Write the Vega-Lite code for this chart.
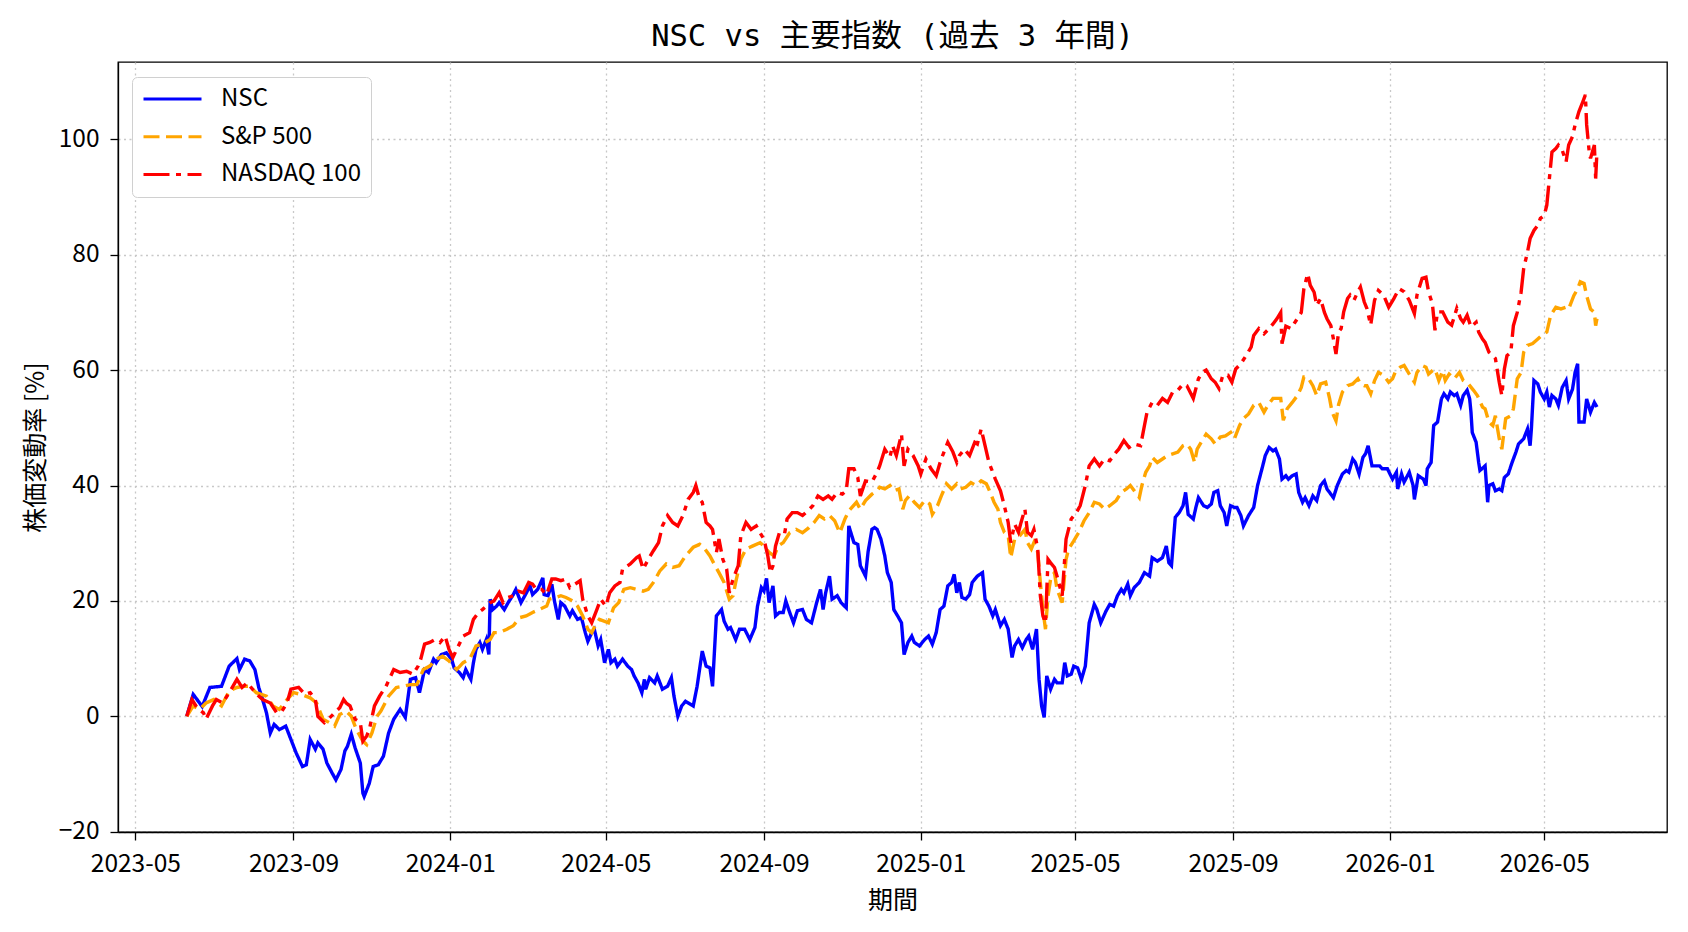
{
"$schema": "https://vega.github.io/schema/vega-lite/v6.json",
"width": 1549, "height": 770,
"autosize": {"type": "none"},
"padding": {"left": 118, "top": 62, "right": 21, "bottom": 100},
"background": "white",
"title": {"text": "NSC vs 主要指数 (過去 3 年間)", "font": "DejaVu Sans Mono, Noto Sans CJK JP", "fontSize": 30.5, "fontWeight": "normal", "color": "black", "offset": 10, "anchor": "middle"},
"config": {
  "view": {"stroke": "black", "strokeWidth": 1.3},
  "axis": {"labelFont": "Noto Sans CJK JP", "titleFont": "Noto Sans CJK JP", "labelFontSize": 24.5, "titleFontSize": 25, "titleFontWeight": "normal", "labelColor": "black", "titleColor": "black", "tickColor": "black", "tickSize": 8, "tickWidth": 1.3, "domainColor": "black", "domainWidth": 1.3, "grid": true, "gridColor": "#c8c8c8", "gridDash": [2, 3.5], "gridWidth": 1.3, "labelOverlap": false, "labelFlush": false},
  "legend": {"labelFont": "Noto Sans CJK JP", "labelFontSize": 24, "labelColor": "black", "strokeColor": "#d0d0d0", "fillColor": "white", "cornerRadius": 5, "padding": 10, "symbolType": "stroke", "symbolStrokeWidth": 3, "symbolSize": 3364, "labelOffset": 18, "rowPadding": 13.7, "clipHeight": 24, "titlePadding": 0}
},
"data": {"values": [
{"date":"2023-06-10","series":"NSC","value":0},
{"date":"2023-06-15","series":"NSC","value":3.8},
{"date":"2023-06-22","series":"NSC","value":1.7},
{"date":"2023-06-28","series":"NSC","value":5.0},
{"date":"2023-07-07","series":"NSC","value":5.2},
{"date":"2023-07-13","series":"NSC","value":8.7},
{"date":"2023-07-19","series":"NSC","value":10.0},
{"date":"2023-07-21","series":"NSC","value":8.1},
{"date":"2023-07-25","series":"NSC","value":9.9},
{"date":"2023-07-29","series":"NSC","value":9.6},
{"date":"2023-08-02","series":"NSC","value":8.1},
{"date":"2023-08-05","series":"NSC","value":5.0},
{"date":"2023-08-08","series":"NSC","value":2.9},
{"date":"2023-08-11","series":"NSC","value":0.6},
{"date":"2023-08-14","series":"NSC","value":-2.9},
{"date":"2023-08-17","series":"NSC","value":-1.4},
{"date":"2023-08-21","series":"NSC","value":-2.3},
{"date":"2023-08-26","series":"NSC","value":-1.7},
{"date":"2023-08-30","series":"NSC","value":-4.0},
{"date":"2023-09-03","series":"NSC","value":-6.3},
{"date":"2023-09-08","series":"NSC","value":-8.7},
{"date":"2023-09-11","series":"NSC","value":-8.4},
{"date":"2023-09-14","series":"NSC","value":-4.0},
{"date":"2023-09-18","series":"NSC","value":-5.7},
{"date":"2023-09-20","series":"NSC","value":-4.6},
{"date":"2023-09-24","series":"NSC","value":-5.7},
{"date":"2023-09-27","series":"NSC","value":-8.1},
{"date":"2023-10-01","series":"NSC","value":-9.8},
{"date":"2023-10-04","series":"NSC","value":-11.0},
{"date":"2023-10-08","series":"NSC","value":-9.2},
{"date":"2023-10-11","series":"NSC","value":-6.0},
{"date":"2023-10-13","series":"NSC","value":-5.2},
{"date":"2023-10-16","series":"NSC","value":-3.1},
{"date":"2023-10-19","series":"NSC","value":-5.5},
{"date":"2023-10-23","series":"NSC","value":-8.1},
{"date":"2023-10-25","series":"NSC","value":-13.3},
{"date":"2023-10-26","series":"NSC","value":-13.9},
{"date":"2023-10-30","series":"NSC","value":-11.6},
{"date":"2023-11-02","series":"NSC","value":-8.7},
{"date":"2023-11-06","series":"NSC","value":-8.4},
{"date":"2023-11-10","series":"NSC","value":-6.9},
{"date":"2023-11-14","series":"NSC","value":-2.9},
{"date":"2023-11-18","series":"NSC","value":-0.5},
{"date":"2023-11-23","series":"NSC","value":1.2},
{"date":"2023-11-27","series":"NSC","value":-0.2},
{"date":"2023-12-01","series":"NSC","value":6.4},
{"date":"2023-12-05","series":"NSC","value":6.7},
{"date":"2023-12-08","series":"NSC","value":4.1},
{"date":"2023-12-12","series":"NSC","value":8.1},
{"date":"2023-12-15","series":"NSC","value":7.6},
{"date":"2023-12-19","series":"NSC","value":9.9},
{"date":"2023-12-21","series":"NSC","value":9.3},
{"date":"2023-12-25","series":"NSC","value":10.7},
{"date":"2023-12-29","series":"NSC","value":11.0},
{"date":"2024-01-02","series":"NSC","value":9.9},
{"date":"2024-01-04","series":"NSC","value":8.4},
{"date":"2024-01-08","series":"NSC","value":7.6},
{"date":"2024-01-11","series":"NSC","value":6.7},
{"date":"2024-01-13","series":"NSC","value":8.1},
{"date":"2024-01-17","series":"NSC","value":6.4},
{"date":"2024-01-19","series":"NSC","value":9.3},
{"date":"2024-01-21","series":"NSC","value":11.6},
{"date":"2024-01-24","series":"NSC","value":12.8},
{"date":"2024-01-26","series":"NSC","value":11.6},
{"date":"2024-01-29","series":"NSC","value":13.3},
{"date":"2024-01-31","series":"NSC","value":10.7},
{"date":"2024-02-01","series":"NSC","value":20.3},
{"date":"2024-02-03","series":"NSC","value":18.5},
{"date":"2024-02-06","series":"NSC","value":19.1},
{"date":"2024-02-08","series":"NSC","value":19.7},
{"date":"2024-02-12","series":"NSC","value":18.5},
{"date":"2024-02-15","series":"NSC","value":19.7},
{"date":"2024-02-19","series":"NSC","value":21.1},
{"date":"2024-02-21","series":"NSC","value":22.0},
{"date":"2024-02-25","series":"NSC","value":19.7},
{"date":"2024-02-28","series":"NSC","value":20.9},
{"date":"2024-03-03","series":"NSC","value":22.6},
{"date":"2024-03-05","series":"NSC","value":21.1},
{"date":"2024-03-09","series":"NSC","value":22.0},
{"date":"2024-03-13","series":"NSC","value":24.0},
{"date":"2024-03-14","series":"NSC","value":21.1},
{"date":"2024-03-17","series":"NSC","value":20.9},
{"date":"2024-03-20","series":"NSC","value":22.9},
{"date":"2024-03-22","series":"NSC","value":20.0},
{"date":"2024-03-25","series":"NSC","value":16.8},
{"date":"2024-03-27","series":"NSC","value":19.7},
{"date":"2024-03-30","series":"NSC","value":19.1},
{"date":"2024-04-03","series":"NSC","value":17.4},
{"date":"2024-04-05","series":"NSC","value":18.3},
{"date":"2024-04-09","series":"NSC","value":16.8},
{"date":"2024-04-12","series":"NSC","value":17.1},
{"date":"2024-04-15","series":"NSC","value":14.5},
{"date":"2024-04-17","series":"NSC","value":13.0},
{"date":"2024-04-20","series":"NSC","value":14.5},
{"date":"2024-04-22","series":"NSC","value":15.1},
{"date":"2024-04-25","series":"NSC","value":12.2},
{"date":"2024-04-27","series":"NSC","value":13.3},
{"date":"2024-04-30","series":"NSC","value":9.3},
{"date":"2024-05-03","series":"NSC","value":11.6},
{"date":"2024-05-05","series":"NSC","value":9.3},
{"date":"2024-05-08","series":"NSC","value":9.9},
{"date":"2024-05-10","series":"NSC","value":8.7},
{"date":"2024-05-14","series":"NSC","value":9.9},
{"date":"2024-05-18","series":"NSC","value":8.7},
{"date":"2024-05-21","series":"NSC","value":8.1},
{"date":"2024-05-23","series":"NSC","value":7.0},
{"date":"2024-05-26","series":"NSC","value":5.8},
{"date":"2024-05-29","series":"NSC","value":4.1},
{"date":"2024-05-31","series":"NSC","value":6.4},
{"date":"2024-06-01","series":"NSC","value":4.7},
{"date":"2024-06-04","series":"NSC","value":6.7},
{"date":"2024-06-08","series":"NSC","value":5.8},
{"date":"2024-06-10","series":"NSC","value":7.0},
{"date":"2024-06-14","series":"NSC","value":4.7},
{"date":"2024-06-18","series":"NSC","value":5.2},
{"date":"2024-06-21","series":"NSC","value":6.7},
{"date":"2024-06-23","series":"NSC","value":3.5},
{"date":"2024-06-26","series":"NSC","value":0.0},
{"date":"2024-06-29","series":"NSC","value":1.8},
{"date":"2024-07-02","series":"NSC","value":2.6},
{"date":"2024-07-08","series":"NSC","value":1.8},
{"date":"2024-07-11","series":"NSC","value":5.2},
{"date":"2024-07-15","series":"NSC","value":11.3},
{"date":"2024-07-18","series":"NSC","value":8.7},
{"date":"2024-07-21","series":"NSC","value":8.4},
{"date":"2024-07-23","series":"NSC","value":5.2},
{"date":"2024-07-26","series":"NSC","value":17.4},
{"date":"2024-07-30","series":"NSC","value":18.5},
{"date":"2024-08-01","series":"NSC","value":16.5},
{"date":"2024-08-04","series":"NSC","value":15.1},
{"date":"2024-08-06","series":"NSC","value":15.4},
{"date":"2024-08-10","series":"NSC","value":13.3},
{"date":"2024-08-13","series":"NSC","value":15.1},
{"date":"2024-08-17","series":"NSC","value":15.1},
{"date":"2024-08-21","series":"NSC","value":13.3},
{"date":"2024-08-25","series":"NSC","value":15.4},
{"date":"2024-08-27","series":"NSC","value":19.1},
{"date":"2024-08-30","series":"NSC","value":22.3},
{"date":"2024-09-01","series":"NSC","value":21.7},
{"date":"2024-09-03","series":"NSC","value":23.9},
{"date":"2024-09-05","series":"NSC","value":19.7},
{"date":"2024-09-08","series":"NSC","value":22.6},
{"date":"2024-09-10","series":"NSC","value":17.4},
{"date":"2024-09-13","series":"NSC","value":18.0},
{"date":"2024-09-16","series":"NSC","value":18.0},
{"date":"2024-09-18","series":"NSC","value":20.0},
{"date":"2024-09-21","series":"NSC","value":18.0},
{"date":"2024-09-24","series":"NSC","value":16.2},
{"date":"2024-09-27","series":"NSC","value":18.3},
{"date":"2024-10-01","series":"NSC","value":18.5},
{"date":"2024-10-04","series":"NSC","value":16.8},
{"date":"2024-10-08","series":"NSC","value":16.2},
{"date":"2024-10-12","series":"NSC","value":19.7},
{"date":"2024-10-15","series":"NSC","value":22.0},
{"date":"2024-10-17","series":"NSC","value":18.5},
{"date":"2024-10-19","series":"NSC","value":21.4},
{"date":"2024-10-22","series":"NSC","value":24.3},
{"date":"2024-10-24","series":"NSC","value":20.3},
{"date":"2024-10-28","series":"NSC","value":20.9},
{"date":"2024-10-31","series":"NSC","value":19.7},
{"date":"2024-11-04","series":"NSC","value":18.8},
{"date":"2024-11-06","series":"NSC","value":33.0},
{"date":"2024-11-10","series":"NSC","value":30.1},
{"date":"2024-11-13","series":"NSC","value":29.8},
{"date":"2024-11-15","series":"NSC","value":26.1},
{"date":"2024-11-19","series":"NSC","value":24.3},
{"date":"2024-11-21","series":"NSC","value":28.5},
{"date":"2024-11-24","series":"NSC","value":32.4},
{"date":"2024-11-26","series":"NSC","value":32.7},
{"date":"2024-11-28","series":"NSC","value":32.4},
{"date":"2024-12-01","series":"NSC","value":30.7},
{"date":"2024-12-04","series":"NSC","value":27.8},
{"date":"2024-12-06","series":"NSC","value":24.9},
{"date":"2024-12-09","series":"NSC","value":23.2},
{"date":"2024-12-11","series":"NSC","value":18.5},
{"date":"2024-12-14","series":"NSC","value":17.4},
{"date":"2024-12-17","series":"NSC","value":16.2},
{"date":"2024-12-19","series":"NSC","value":10.7},
{"date":"2024-12-22","series":"NSC","value":12.8},
{"date":"2024-12-25","series":"NSC","value":13.9},
{"date":"2024-12-27","series":"NSC","value":12.8},
{"date":"2024-12-31","series":"NSC","value":12.2},
{"date":"2025-01-04","series":"NSC","value":13.3},
{"date":"2025-01-07","series":"NSC","value":13.9},
{"date":"2025-01-10","series":"NSC","value":12.5},
{"date":"2025-01-13","series":"NSC","value":14.5},
{"date":"2025-01-16","series":"NSC","value":18.5},
{"date":"2025-01-19","series":"NSC","value":19.1},
{"date":"2025-01-22","series":"NSC","value":22.6},
{"date":"2025-01-25","series":"NSC","value":23.2},
{"date":"2025-01-27","series":"NSC","value":24.6},
{"date":"2025-01-29","series":"NSC","value":21.4},
{"date":"2025-01-31","series":"NSC","value":23.2},
{"date":"2025-02-02","series":"NSC","value":20.6},
{"date":"2025-02-05","series":"NSC","value":20.3},
{"date":"2025-02-08","series":"NSC","value":21.1},
{"date":"2025-02-10","series":"NSC","value":23.2},
{"date":"2025-02-14","series":"NSC","value":24.3},
{"date":"2025-02-18","series":"NSC","value":24.9},
{"date":"2025-02-20","series":"NSC","value":20.3},
{"date":"2025-02-23","series":"NSC","value":19.1},
{"date":"2025-02-26","series":"NSC","value":17.4},
{"date":"2025-02-28","series":"NSC","value":18.5},
{"date":"2025-03-04","series":"NSC","value":15.7},
{"date":"2025-03-07","series":"NSC","value":16.8},
{"date":"2025-03-10","series":"NSC","value":15.1},
{"date":"2025-03-13","series":"NSC","value":10.2},
{"date":"2025-03-15","series":"NSC","value":12.2},
{"date":"2025-03-18","series":"NSC","value":13.3},
{"date":"2025-03-21","series":"NSC","value":11.9},
{"date":"2025-03-24","series":"NSC","value":13.3},
{"date":"2025-03-26","series":"NSC","value":13.9},
{"date":"2025-03-29","series":"NSC","value":11.6},
{"date":"2025-04-01","series":"NSC","value":15.1},
{"date":"2025-04-03","series":"NSC","value":6.4},
{"date":"2025-04-05","series":"NSC","value":1.8},
{"date":"2025-04-07","series":"NSC","value":-0.2},
{"date":"2025-04-09","series":"NSC","value":7.0},
{"date":"2025-04-12","series":"NSC","value":4.7},
{"date":"2025-04-15","series":"NSC","value":6.4},
{"date":"2025-04-17","series":"NSC","value":5.8},
{"date":"2025-04-21","series":"NSC","value":5.8},
{"date":"2025-04-23","series":"NSC","value":9.3},
{"date":"2025-04-25","series":"NSC","value":7.0},
{"date":"2025-04-28","series":"NSC","value":7.3},
{"date":"2025-04-30","series":"NSC","value":8.7},
{"date":"2025-05-03","series":"NSC","value":8.4},
{"date":"2025-05-06","series":"NSC","value":6.4},
{"date":"2025-05-09","series":"NSC","value":8.7},
{"date":"2025-05-12","series":"NSC","value":16.2},
{"date":"2025-05-16","series":"NSC","value":19.4},
{"date":"2025-05-18","series":"NSC","value":18.5},
{"date":"2025-05-21","series":"NSC","value":16.2},
{"date":"2025-05-25","series":"NSC","value":18.2},
{"date":"2025-05-28","series":"NSC","value":19.4},
{"date":"2025-05-31","series":"NSC","value":19.1},
{"date":"2025-06-03","series":"NSC","value":20.9},
{"date":"2025-06-06","series":"NSC","value":22.0},
{"date":"2025-06-08","series":"NSC","value":21.4},
{"date":"2025-06-11","series":"NSC","value":22.9},
{"date":"2025-06-13","series":"NSC","value":20.9},
{"date":"2025-06-16","series":"NSC","value":22.3},
{"date":"2025-06-20","series":"NSC","value":23.2},
{"date":"2025-06-24","series":"NSC","value":24.9},
{"date":"2025-06-28","series":"NSC","value":24.3},
{"date":"2025-06-30","series":"NSC","value":27.5},
{"date":"2025-07-04","series":"NSC","value":26.9},
{"date":"2025-07-08","series":"NSC","value":27.5},
{"date":"2025-07-11","series":"NSC","value":29.5},
{"date":"2025-07-13","series":"NSC","value":26.6},
{"date":"2025-07-15","series":"NSC","value":26.1},
{"date":"2025-07-18","series":"NSC","value":34.5},
{"date":"2025-07-21","series":"NSC","value":35.3},
{"date":"2025-07-24","series":"NSC","value":36.5},
{"date":"2025-07-26","series":"NSC","value":38.8},
{"date":"2025-07-28","series":"NSC","value":35.0},
{"date":"2025-08-01","series":"NSC","value":34.2},
{"date":"2025-08-03","series":"NSC","value":36.2},
{"date":"2025-08-05","series":"NSC","value":37.9},
{"date":"2025-08-09","series":"NSC","value":36.5},
{"date":"2025-08-12","series":"NSC","value":36.2},
{"date":"2025-08-15","series":"NSC","value":36.8},
{"date":"2025-08-17","series":"NSC","value":38.8},
{"date":"2025-08-20","series":"NSC","value":39.1},
{"date":"2025-08-22","series":"NSC","value":36.5},
{"date":"2025-08-25","series":"NSC","value":35.3},
{"date":"2025-08-27","series":"NSC","value":33.0},
{"date":"2025-08-30","series":"NSC","value":36.5},
{"date":"2025-09-02","series":"NSC","value":36.2},
{"date":"2025-09-04","series":"NSC","value":36.2},
{"date":"2025-09-07","series":"NSC","value":34.8},
{"date":"2025-09-09","series":"NSC","value":33.0},
{"date":"2025-09-13","series":"NSC","value":34.8},
{"date":"2025-09-17","series":"NSC","value":36.2},
{"date":"2025-09-20","series":"NSC","value":40.0},
{"date":"2025-09-24","series":"NSC","value":43.4},
{"date":"2025-09-26","series":"NSC","value":45.2},
{"date":"2025-09-29","series":"NSC","value":46.6},
{"date":"2025-10-02","series":"NSC","value":46.0},
{"date":"2025-10-04","series":"NSC","value":46.3},
{"date":"2025-10-07","series":"NSC","value":44.6},
{"date":"2025-10-09","series":"NSC","value":41.1},
{"date":"2025-10-12","series":"NSC","value":41.7},
{"date":"2025-10-14","series":"NSC","value":41.1},
{"date":"2025-10-17","series":"NSC","value":41.7},
{"date":"2025-10-20","series":"NSC","value":42.0},
{"date":"2025-10-22","series":"NSC","value":38.8},
{"date":"2025-10-25","series":"NSC","value":37.1},
{"date":"2025-10-27","series":"NSC","value":37.9},
{"date":"2025-10-30","series":"NSC","value":36.5},
{"date":"2025-11-02","series":"NSC","value":38.2},
{"date":"2025-11-05","series":"NSC","value":37.4},
{"date":"2025-11-08","series":"NSC","value":40.0},
{"date":"2025-11-11","series":"NSC","value":40.8},
{"date":"2025-11-13","series":"NSC","value":39.4},
{"date":"2025-11-16","series":"NSC","value":38.5},
{"date":"2025-11-18","series":"NSC","value":37.9},
{"date":"2025-11-21","series":"NSC","value":40.0},
{"date":"2025-11-25","series":"NSC","value":42.0},
{"date":"2025-11-28","series":"NSC","value":42.6},
{"date":"2025-11-30","series":"NSC","value":42.3},
{"date":"2025-12-03","series":"NSC","value":44.6},
{"date":"2025-12-05","series":"NSC","value":44.0},
{"date":"2025-12-08","series":"NSC","value":42.0},
{"date":"2025-12-11","series":"NSC","value":44.9},
{"date":"2025-12-13","series":"NSC","value":45.5},
{"date":"2025-12-15","series":"NSC","value":46.9},
{"date":"2025-12-18","series":"NSC","value":43.4},
{"date":"2025-12-21","series":"NSC","value":43.4},
{"date":"2025-12-24","series":"NSC","value":43.4},
{"date":"2025-12-26","series":"NSC","value":42.9},
{"date":"2025-12-30","series":"NSC","value":42.9},
{"date":"2026-01-03","series":"NSC","value":41.1},
{"date":"2026-01-06","series":"NSC","value":42.3},
{"date":"2026-01-07","series":"NSC","value":39.4},
{"date":"2026-01-10","series":"NSC","value":42.0},
{"date":"2026-01-12","series":"NSC","value":40.6},
{"date":"2026-01-16","series":"NSC","value":42.3},
{"date":"2026-01-19","series":"NSC","value":40.0},
{"date":"2026-01-20","series":"NSC","value":37.6},
{"date":"2026-01-23","series":"NSC","value":41.7},
{"date":"2026-01-27","series":"NSC","value":41.1},
{"date":"2026-01-29","series":"NSC","value":40.0},
{"date":"2026-01-30","series":"NSC","value":42.9},
{"date":"2026-02-02","series":"NSC","value":44.0},
{"date":"2026-02-04","series":"NSC","value":50.4},
{"date":"2026-02-07","series":"NSC","value":51.0},
{"date":"2026-02-10","series":"NSC","value":55.0},
{"date":"2026-02-12","series":"NSC","value":55.9},
{"date":"2026-02-15","series":"NSC","value":55.0},
{"date":"2026-02-17","series":"NSC","value":56.2},
{"date":"2026-02-20","series":"NSC","value":55.6},
{"date":"2026-02-22","series":"NSC","value":55.9},
{"date":"2026-02-25","series":"NSC","value":53.9},
{"date":"2026-02-27","series":"NSC","value":55.6},
{"date":"2026-03-02","series":"NSC","value":56.5},
{"date":"2026-03-04","series":"NSC","value":55.0},
{"date":"2026-03-05","series":"NSC","value":52.7},
{"date":"2026-03-06","series":"NSC","value":49.2},
{"date":"2026-03-09","series":"NSC","value":47.5},
{"date":"2026-03-11","series":"NSC","value":44.0},
{"date":"2026-03-12","series":"NSC","value":42.6},
{"date":"2026-03-16","series":"NSC","value":43.4},
{"date":"2026-03-18","series":"NSC","value":37.1},
{"date":"2026-03-19","series":"NSC","value":40.0},
{"date":"2026-03-22","series":"NSC","value":40.3},
{"date":"2026-03-24","series":"NSC","value":39.1},
{"date":"2026-03-27","series":"NSC","value":39.4},
{"date":"2026-03-29","series":"NSC","value":39.1},
{"date":"2026-03-31","series":"NSC","value":41.4},
{"date":"2026-04-03","series":"NSC","value":42.0},
{"date":"2026-04-06","series":"NSC","value":44.0},
{"date":"2026-04-09","series":"NSC","value":45.8},
{"date":"2026-04-11","series":"NSC","value":47.2},
{"date":"2026-04-15","series":"NSC","value":48.1},
{"date":"2026-04-18","series":"NSC","value":49.8},
{"date":"2026-04-20","series":"NSC","value":46.9},
{"date":"2026-04-21","series":"NSC","value":49.8},
{"date":"2026-04-23","series":"NSC","value":58.2},
{"date":"2026-04-26","series":"NSC","value":57.6},
{"date":"2026-04-28","series":"NSC","value":56.2},
{"date":"2026-05-01","series":"NSC","value":55.0},
{"date":"2026-05-03","series":"NSC","value":56.2},
{"date":"2026-05-05","series":"NSC","value":53.6},
{"date":"2026-05-07","series":"NSC","value":55.6},
{"date":"2026-05-10","series":"NSC","value":55.0},
{"date":"2026-05-12","series":"NSC","value":53.9},
{"date":"2026-05-15","series":"NSC","value":57.0},
{"date":"2026-05-18","series":"NSC","value":58.2},
{"date":"2026-05-20","series":"NSC","value":55.0},
{"date":"2026-05-23","series":"NSC","value":56.7},
{"date":"2026-05-25","series":"NSC","value":59.6},
{"date":"2026-05-27","series":"NSC","value":61.1},
{"date":"2026-05-28","series":"NSC","value":51.0},
{"date":"2026-06-01","series":"NSC","value":51.0},
{"date":"2026-06-03","series":"NSC","value":55.0},
{"date":"2026-06-06","series":"NSC","value":52.7},
{"date":"2026-06-09","series":"NSC","value":54.4},
{"date":"2026-06-11","series":"NSC","value":53.6},
{"date":"2023-06-10","series":"S&P 500","value":0},
{"date":"2023-06-15","series":"S&P 500","value":1.8},
{"date":"2023-06-20","series":"S&P 500","value":1.2},
{"date":"2023-06-25","series":"S&P 500","value":2.3},
{"date":"2023-07-01","series":"S&P 500","value":2.9},
{"date":"2023-07-07","series":"S&P 500","value":1.8},
{"date":"2023-07-13","series":"S&P 500","value":4.4},
{"date":"2023-07-19","series":"S&P 500","value":5.0},
{"date":"2023-07-24","series":"S&P 500","value":5.2},
{"date":"2023-07-29","series":"S&P 500","value":5.2},
{"date":"2023-08-03","series":"S&P 500","value":4.1},
{"date":"2023-08-11","series":"S&P 500","value":3.5},
{"date":"2023-08-16","series":"S&P 500","value":1.8},
{"date":"2023-08-21","series":"S&P 500","value":1.2},
{"date":"2023-08-27","series":"S&P 500","value":2.9},
{"date":"2023-09-01","series":"S&P 500","value":4.1},
{"date":"2023-09-07","series":"S&P 500","value":3.8},
{"date":"2023-09-14","series":"S&P 500","value":3.2},
{"date":"2023-09-19","series":"S&P 500","value":2.3},
{"date":"2023-09-24","series":"S&P 500","value":-0.5},
{"date":"2023-09-29","series":"S&P 500","value":-1.1},
{"date":"2023-10-03","series":"S&P 500","value":-1.7},
{"date":"2023-10-07","series":"S&P 500","value":0.3},
{"date":"2023-10-12","series":"S&P 500","value":0.9},
{"date":"2023-10-16","series":"S&P 500","value":0},
{"date":"2023-10-20","series":"S&P 500","value":-2.3},
{"date":"2023-10-25","series":"S&P 500","value":-4.3},
{"date":"2023-10-28","series":"S&P 500","value":-4.9},
{"date":"2023-11-01","series":"S&P 500","value":-2.9},
{"date":"2023-11-05","series":"S&P 500","value":0},
{"date":"2023-11-08","series":"S&P 500","value":0.9},
{"date":"2023-11-14","series":"S&P 500","value":3.5},
{"date":"2023-11-20","series":"S&P 500","value":5.0},
{"date":"2023-11-25","series":"S&P 500","value":5.2},
{"date":"2023-12-01","series":"S&P 500","value":5.5},
{"date":"2023-12-06","series":"S&P 500","value":5.5},
{"date":"2023-12-11","series":"S&P 500","value":8.1},
{"date":"2023-12-16","series":"S&P 500","value":8.7},
{"date":"2023-12-21","series":"S&P 500","value":9.9},
{"date":"2023-12-26","series":"S&P 500","value":10.4},
{"date":"2023-12-31","series":"S&P 500","value":9.6},
{"date":"2024-01-06","series":"S&P 500","value":8.1},
{"date":"2024-01-11","series":"S&P 500","value":9.3},
{"date":"2024-01-16","series":"S&P 500","value":9.9},
{"date":"2024-01-21","series":"S&P 500","value":12.2},
{"date":"2024-01-26","series":"S&P 500","value":12.5},
{"date":"2024-02-01","series":"S&P 500","value":13.3},
{"date":"2024-02-04","series":"S&P 500","value":14.5},
{"date":"2024-02-08","series":"S&P 500","value":14.5},
{"date":"2024-02-14","series":"S&P 500","value":15.1},
{"date":"2024-02-19","series":"S&P 500","value":15.7},
{"date":"2024-02-24","series":"S&P 500","value":17.1},
{"date":"2024-02-29","series":"S&P 500","value":17.4},
{"date":"2024-03-05","series":"S&P 500","value":18.0},
{"date":"2024-03-10","series":"S&P 500","value":18.5},
{"date":"2024-03-16","series":"S&P 500","value":19.1},
{"date":"2024-03-18","series":"S&P 500","value":20.3},
{"date":"2024-03-23","series":"S&P 500","value":20.6},
{"date":"2024-03-27","series":"S&P 500","value":20.9},
{"date":"2024-03-31","series":"S&P 500","value":20.6},
{"date":"2024-04-05","series":"S&P 500","value":20.0},
{"date":"2024-04-09","series":"S&P 500","value":19.1},
{"date":"2024-04-13","series":"S&P 500","value":17.4},
{"date":"2024-04-17","series":"S&P 500","value":15.1},
{"date":"2024-04-20","series":"S&P 500","value":14.5},
{"date":"2024-04-22","series":"S&P 500","value":15.4},
{"date":"2024-04-26","series":"S&P 500","value":16.8},
{"date":"2024-05-03","series":"S&P 500","value":16.2},
{"date":"2024-05-07","series":"S&P 500","value":18.8},
{"date":"2024-05-11","series":"S&P 500","value":19.7},
{"date":"2024-05-15","series":"S&P 500","value":22.0},
{"date":"2024-05-20","series":"S&P 500","value":22.3},
{"date":"2024-05-25","series":"S&P 500","value":22.0},
{"date":"2024-05-30","series":"S&P 500","value":21.7},
{"date":"2024-06-03","series":"S&P 500","value":22.0},
{"date":"2024-06-07","series":"S&P 500","value":23.2},
{"date":"2024-06-12","series":"S&P 500","value":25.2},
{"date":"2024-06-17","series":"S&P 500","value":26.4},
{"date":"2024-06-22","series":"S&P 500","value":25.8},
{"date":"2024-06-27","series":"S&P 500","value":26.1},
{"date":"2024-07-02","series":"S&P 500","value":27.8},
{"date":"2024-07-08","series":"S&P 500","value":29.3},
{"date":"2024-07-13","series":"S&P 500","value":29.8},
{"date":"2024-07-17","series":"S&P 500","value":29.0},
{"date":"2024-07-21","series":"S&P 500","value":27.8},
{"date":"2024-07-25","series":"S&P 500","value":26.1},
{"date":"2024-07-28","series":"S&P 500","value":24.9},
{"date":"2024-08-01","series":"S&P 500","value":23.2},
{"date":"2024-08-05","series":"S&P 500","value":20.3},
{"date":"2024-08-08","series":"S&P 500","value":20.9},
{"date":"2024-08-10","series":"S&P 500","value":23.2},
{"date":"2024-08-14","series":"S&P 500","value":27.2},
{"date":"2024-08-18","series":"S&P 500","value":29.0},
{"date":"2024-08-23","series":"S&P 500","value":29.5},
{"date":"2024-08-29","series":"S&P 500","value":30.1},
{"date":"2024-09-01","series":"S&P 500","value":29.5},
{"date":"2024-09-05","series":"S&P 500","value":28.4},
{"date":"2024-09-09","series":"S&P 500","value":27.8},
{"date":"2024-09-12","series":"S&P 500","value":29.5},
{"date":"2024-09-16","series":"S&P 500","value":30.1},
{"date":"2024-09-21","series":"S&P 500","value":31.8},
{"date":"2024-09-26","series":"S&P 500","value":32.4},
{"date":"2024-10-01","series":"S&P 500","value":31.8},
{"date":"2024-10-06","series":"S&P 500","value":32.7},
{"date":"2024-10-10","series":"S&P 500","value":33.6},
{"date":"2024-10-14","series":"S&P 500","value":34.8},
{"date":"2024-10-18","series":"S&P 500","value":34.2},
{"date":"2024-10-22","series":"S&P 500","value":34.8},
{"date":"2024-10-26","series":"S&P 500","value":33.9},
{"date":"2024-10-30","series":"S&P 500","value":31.8},
{"date":"2024-11-03","series":"S&P 500","value":34.2},
{"date":"2024-11-06","series":"S&P 500","value":35.6},
{"date":"2024-11-12","series":"S&P 500","value":37.1},
{"date":"2024-11-15","series":"S&P 500","value":35.9},
{"date":"2024-11-19","series":"S&P 500","value":37.4},
{"date":"2024-11-24","series":"S&P 500","value":38.5},
{"date":"2024-11-28","series":"S&P 500","value":39.1},
{"date":"2024-11-30","series":"S&P 500","value":39.7},
{"date":"2024-12-04","series":"S&P 500","value":39.4},
{"date":"2024-12-08","series":"S&P 500","value":40.0},
{"date":"2024-12-11","series":"S&P 500","value":39.1},
{"date":"2024-12-15","series":"S&P 500","value":39.4},
{"date":"2024-12-18","series":"S&P 500","value":35.9},
{"date":"2024-12-20","series":"S&P 500","value":37.4},
{"date":"2024-12-23","series":"S&P 500","value":38.2},
{"date":"2024-12-27","series":"S&P 500","value":37.1},
{"date":"2024-12-31","series":"S&P 500","value":36.2},
{"date":"2025-01-04","series":"S&P 500","value":37.4},
{"date":"2025-01-08","series":"S&P 500","value":36.8},
{"date":"2025-01-10","series":"S&P 500","value":35.0},
{"date":"2025-01-14","series":"S&P 500","value":36.5},
{"date":"2025-01-17","series":"S&P 500","value":38.2},
{"date":"2025-01-21","series":"S&P 500","value":40.3},
{"date":"2025-01-25","series":"S&P 500","value":39.4},
{"date":"2025-01-29","series":"S&P 500","value":40.3},
{"date":"2025-02-01","series":"S&P 500","value":39.4},
{"date":"2025-02-05","series":"S&P 500","value":39.7},
{"date":"2025-02-09","series":"S&P 500","value":40.5},
{"date":"2025-02-13","series":"S&P 500","value":40.0},
{"date":"2025-02-17","series":"S&P 500","value":40.8},
{"date":"2025-02-21","series":"S&P 500","value":40.3},
{"date":"2025-02-24","series":"S&P 500","value":38.8},
{"date":"2025-02-27","series":"S&P 500","value":37.1},
{"date":"2025-03-02","series":"S&P 500","value":35.9},
{"date":"2025-03-04","series":"S&P 500","value":33.6},
{"date":"2025-03-07","series":"S&P 500","value":31.9},
{"date":"2025-03-10","series":"S&P 500","value":31.3},
{"date":"2025-03-12","series":"S&P 500","value":27.5},
{"date":"2025-03-15","series":"S&P 500","value":30.7},
{"date":"2025-03-19","series":"S&P 500","value":31.3},
{"date":"2025-03-23","series":"S&P 500","value":32.4},
{"date":"2025-03-25","series":"S&P 500","value":30.1},
{"date":"2025-03-28","series":"S&P 500","value":29.0},
{"date":"2025-03-30","series":"S&P 500","value":30.1},
{"date":"2025-04-02","series":"S&P 500","value":28.4},
{"date":"2025-04-04","series":"S&P 500","value":23.2},
{"date":"2025-04-06","series":"S&P 500","value":18.5},
{"date":"2025-04-08","series":"S&P 500","value":15.1},
{"date":"2025-04-10","series":"S&P 500","value":20.9},
{"date":"2025-04-12","series":"S&P 500","value":23.8},
{"date":"2025-04-15","series":"S&P 500","value":24.9},
{"date":"2025-04-17","series":"S&P 500","value":22.0},
{"date":"2025-04-21","series":"S&P 500","value":19.7},
{"date":"2025-04-24","series":"S&P 500","value":27.2},
{"date":"2025-04-26","series":"S&P 500","value":29.0},
{"date":"2025-04-30","series":"S&P 500","value":30.4},
{"date":"2025-05-04","series":"S&P 500","value":31.9},
{"date":"2025-05-08","series":"S&P 500","value":33.9},
{"date":"2025-05-12","series":"S&P 500","value":35.3},
{"date":"2025-05-16","series":"S&P 500","value":37.1},
{"date":"2025-05-20","series":"S&P 500","value":36.8},
{"date":"2025-05-24","series":"S&P 500","value":35.9},
{"date":"2025-05-28","series":"S&P 500","value":36.5},
{"date":"2025-06-02","series":"S&P 500","value":37.4},
{"date":"2025-06-06","series":"S&P 500","value":38.8},
{"date":"2025-06-10","series":"S&P 500","value":39.4},
{"date":"2025-06-13","series":"S&P 500","value":40.0},
{"date":"2025-06-17","series":"S&P 500","value":38.8},
{"date":"2025-06-20","series":"S&P 500","value":37.9},
{"date":"2025-06-22","series":"S&P 500","value":40.0},
{"date":"2025-06-25","series":"S&P 500","value":42.3},
{"date":"2025-06-28","series":"S&P 500","value":43.4},
{"date":"2025-06-30","series":"S&P 500","value":44.9},
{"date":"2025-07-04","series":"S&P 500","value":44.0},
{"date":"2025-07-08","series":"S&P 500","value":44.6},
{"date":"2025-07-12","series":"S&P 500","value":45.2},
{"date":"2025-07-16","series":"S&P 500","value":45.5},
{"date":"2025-07-20","series":"S&P 500","value":45.8},
{"date":"2025-07-24","series":"S&P 500","value":46.9},
{"date":"2025-07-27","series":"S&P 500","value":47.2},
{"date":"2025-07-30","series":"S&P 500","value":46.3},
{"date":"2025-08-02","series":"S&P 500","value":44.0},
{"date":"2025-08-04","series":"S&P 500","value":46.3},
{"date":"2025-08-08","series":"S&P 500","value":47.8},
{"date":"2025-08-11","series":"S&P 500","value":48.9},
{"date":"2025-08-15","series":"S&P 500","value":48.1},
{"date":"2025-08-18","series":"S&P 500","value":47.2},
{"date":"2025-08-22","series":"S&P 500","value":48.4},
{"date":"2025-08-26","series":"S&P 500","value":48.6},
{"date":"2025-08-30","series":"S&P 500","value":49.2},
{"date":"2025-09-02","series":"S&P 500","value":48.1},
{"date":"2025-09-06","series":"S&P 500","value":50.4},
{"date":"2025-09-09","series":"S&P 500","value":51.6},
{"date":"2025-09-13","series":"S&P 500","value":52.4},
{"date":"2025-09-17","series":"S&P 500","value":53.9},
{"date":"2025-09-21","series":"S&P 500","value":54.4},
{"date":"2025-09-25","series":"S&P 500","value":52.7},
{"date":"2025-09-28","series":"S&P 500","value":53.9},
{"date":"2025-10-02","series":"S&P 500","value":55.1},
{"date":"2025-10-05","series":"S&P 500","value":55.1},
{"date":"2025-10-08","series":"S&P 500","value":55.1},
{"date":"2025-10-10","series":"S&P 500","value":51.3},
{"date":"2025-10-13","series":"S&P 500","value":53.3},
{"date":"2025-10-17","series":"S&P 500","value":54.4},
{"date":"2025-10-21","series":"S&P 500","value":55.6},
{"date":"2025-10-24","series":"S&P 500","value":57.0},
{"date":"2025-10-26","series":"S&P 500","value":58.8},
{"date":"2025-10-29","series":"S&P 500","value":58.8},
{"date":"2025-11-02","series":"S&P 500","value":57.3},
{"date":"2025-11-05","series":"S&P 500","value":55.6},
{"date":"2025-11-08","series":"S&P 500","value":57.6},
{"date":"2025-11-12","series":"S&P 500","value":57.9},
{"date":"2025-11-15","series":"S&P 500","value":55.1},
{"date":"2025-11-17","series":"S&P 500","value":52.7},
{"date":"2025-11-20","series":"S&P 500","value":51.2},
{"date":"2025-11-22","series":"S&P 500","value":54.0},
{"date":"2025-11-25","series":"S&P 500","value":56.2},
{"date":"2025-11-29","series":"S&P 500","value":57.3},
{"date":"2025-12-03","series":"S&P 500","value":57.6},
{"date":"2025-12-07","series":"S&P 500","value":58.5},
{"date":"2025-12-09","series":"S&P 500","value":57.6},
{"date":"2025-12-12","series":"S&P 500","value":57.3},
{"date":"2025-12-14","series":"S&P 500","value":57.3},
{"date":"2025-12-17","series":"S&P 500","value":55.9},
{"date":"2025-12-20","series":"S&P 500","value":58.2},
{"date":"2025-12-23","series":"S&P 500","value":59.6},
{"date":"2025-12-27","series":"S&P 500","value":59.1},
{"date":"2025-12-31","series":"S&P 500","value":57.9},
{"date":"2026-01-03","series":"S&P 500","value":58.5},
{"date":"2026-01-05","series":"S&P 500","value":59.6},
{"date":"2026-01-09","series":"S&P 500","value":60.5},
{"date":"2026-01-12","series":"S&P 500","value":60.8},
{"date":"2026-01-16","series":"S&P 500","value":59.3},
{"date":"2026-01-20","series":"S&P 500","value":57.9},
{"date":"2026-01-22","series":"S&P 500","value":59.6},
{"date":"2026-01-26","series":"S&P 500","value":60.8},
{"date":"2026-01-29","series":"S&P 500","value":60.5},
{"date":"2026-01-31","series":"S&P 500","value":59.3},
{"date":"2026-02-03","series":"S&P 500","value":59.9},
{"date":"2026-02-05","series":"S&P 500","value":60.2},
{"date":"2026-02-08","series":"S&P 500","value":58.2},
{"date":"2026-02-11","series":"S&P 500","value":59.9},
{"date":"2026-02-13","series":"S&P 500","value":58.2},
{"date":"2026-02-16","series":"S&P 500","value":59.3},
{"date":"2026-02-20","series":"S&P 500","value":58.5},
{"date":"2026-02-24","series":"S&P 500","value":59.6},
{"date":"2026-02-27","series":"S&P 500","value":58.2},
{"date":"2026-03-03","series":"S&P 500","value":57.6},
{"date":"2026-03-07","series":"S&P 500","value":56.5},
{"date":"2026-03-10","series":"S&P 500","value":55.6},
{"date":"2026-03-14","series":"S&P 500","value":53.6},
{"date":"2026-03-16","series":"S&P 500","value":53.3},
{"date":"2026-03-19","series":"S&P 500","value":51.0},
{"date":"2026-03-22","series":"S&P 500","value":50.4},
{"date":"2026-03-24","series":"S&P 500","value":52.1},
{"date":"2026-03-27","series":"S&P 500","value":48.1},
{"date":"2026-03-29","series":"S&P 500","value":46.3},
{"date":"2026-04-01","series":"S&P 500","value":51.6},
{"date":"2026-04-05","series":"S&P 500","value":52.1},
{"date":"2026-04-07","series":"S&P 500","value":53.3},
{"date":"2026-04-10","series":"S&P 500","value":58.5},
{"date":"2026-04-13","series":"S&P 500","value":59.6},
{"date":"2026-04-15","series":"S&P 500","value":63.1},
{"date":"2026-04-18","series":"S&P 500","value":64.3},
{"date":"2026-04-22","series":"S&P 500","value":64.6},
{"date":"2026-04-26","series":"S&P 500","value":65.4},
{"date":"2026-04-29","series":"S&P 500","value":66.0},
{"date":"2026-05-03","series":"S&P 500","value":66.6},
{"date":"2026-05-06","series":"S&P 500","value":69.5},
{"date":"2026-05-10","series":"S&P 500","value":70.9},
{"date":"2026-05-14","series":"S&P 500","value":70.6},
{"date":"2026-05-18","series":"S&P 500","value":70.9},
{"date":"2026-05-20","series":"S&P 500","value":70.6},
{"date":"2026-05-24","series":"S&P 500","value":72.9},
{"date":"2026-05-27","series":"S&P 500","value":74.1},
{"date":"2026-05-29","series":"S&P 500","value":75.3},
{"date":"2026-06-01","series":"S&P 500","value":75.0},
{"date":"2026-06-03","series":"S&P 500","value":72.9},
{"date":"2026-06-06","series":"S&P 500","value":70.6},
{"date":"2026-06-09","series":"S&P 500","value":70.0},
{"date":"2026-06-10","series":"S&P 500","value":67.7},
{"date":"2026-06-11","series":"S&P 500","value":68.9},
{"date":"2023-06-10","series":"NASDAQ 100","value":0},
{"date":"2023-06-14","series":"NASDAQ 100","value":2.9},
{"date":"2023-06-18","series":"NASDAQ 100","value":1.5},
{"date":"2023-06-23","series":"NASDAQ 100","value":0.6},
{"date":"2023-06-25","series":"NASDAQ 100","value":-0.5},
{"date":"2023-06-30","series":"NASDAQ 100","value":1.8},
{"date":"2023-07-03","series":"NASDAQ 100","value":2.9},
{"date":"2023-07-08","series":"NASDAQ 100","value":2.3},
{"date":"2023-07-13","series":"NASDAQ 100","value":4.1},
{"date":"2023-07-19","series":"NASDAQ 100","value":6.4},
{"date":"2023-07-23","series":"NASDAQ 100","value":5.0},
{"date":"2023-07-27","series":"NASDAQ 100","value":5.8},
{"date":"2023-07-30","series":"NASDAQ 100","value":5.0},
{"date":"2023-08-05","series":"NASDAQ 100","value":3.5},
{"date":"2023-08-08","series":"NASDAQ 100","value":2.9},
{"date":"2023-08-14","series":"NASDAQ 100","value":2.3},
{"date":"2023-08-19","series":"NASDAQ 100","value":0.6},
{"date":"2023-08-23","series":"NASDAQ 100","value":0.9},
{"date":"2023-08-27","series":"NASDAQ 100","value":2.3},
{"date":"2023-08-30","series":"NASDAQ 100","value":4.7},
{"date":"2023-09-05","series":"NASDAQ 100","value":5.0},
{"date":"2023-09-10","series":"NASDAQ 100","value":3.8},
{"date":"2023-09-14","series":"NASDAQ 100","value":4.1},
{"date":"2023-09-18","series":"NASDAQ 100","value":2.9},
{"date":"2023-09-20","series":"NASDAQ 100","value":0},
{"date":"2023-09-25","series":"NASDAQ 100","value":-1.1},
{"date":"2023-09-29","series":"NASDAQ 100","value":-0.3},
{"date":"2023-10-03","series":"NASDAQ 100","value":0.6},
{"date":"2023-10-07","series":"NASDAQ 100","value":1.5},
{"date":"2023-10-10","series":"NASDAQ 100","value":2.9},
{"date":"2023-10-12","series":"NASDAQ 100","value":2.3},
{"date":"2023-10-15","series":"NASDAQ 100","value":1.8},
{"date":"2023-10-19","series":"NASDAQ 100","value":-0.5},
{"date":"2023-10-23","series":"NASDAQ 100","value":-1.1},
{"date":"2023-10-25","series":"NASDAQ 100","value":-4.3},
{"date":"2023-10-28","series":"NASDAQ 100","value":-3.4},
{"date":"2023-10-30","series":"NASDAQ 100","value":-2.3},
{"date":"2023-11-03","series":"NASDAQ 100","value":1.8},
{"date":"2023-11-07","series":"NASDAQ 100","value":3.5},
{"date":"2023-11-12","series":"NASDAQ 100","value":5.2},
{"date":"2023-11-18","series":"NASDAQ 100","value":8.1},
{"date":"2023-11-23","series":"NASDAQ 100","value":7.6},
{"date":"2023-11-28","series":"NASDAQ 100","value":7.8},
{"date":"2023-12-03","series":"NASDAQ 100","value":7.3},
{"date":"2023-12-07","series":"NASDAQ 100","value":8.7},
{"date":"2023-12-09","series":"NASDAQ 100","value":9.9},
{"date":"2023-12-12","series":"NASDAQ 100","value":12.5},
{"date":"2023-12-16","series":"NASDAQ 100","value":12.8},
{"date":"2023-12-20","series":"NASDAQ 100","value":13.3},
{"date":"2023-12-24","series":"NASDAQ 100","value":12.8},
{"date":"2023-12-28","series":"NASDAQ 100","value":13.9},
{"date":"2023-12-31","series":"NASDAQ 100","value":11.6},
{"date":"2024-01-03","series":"NASDAQ 100","value":10.2},
{"date":"2024-01-06","series":"NASDAQ 100","value":11.6},
{"date":"2024-01-11","series":"NASDAQ 100","value":13.9},
{"date":"2024-01-16","series":"NASDAQ 100","value":14.5},
{"date":"2024-01-19","series":"NASDAQ 100","value":16.8},
{"date":"2024-01-23","series":"NASDAQ 100","value":18.0},
{"date":"2024-01-26","series":"NASDAQ 100","value":18.5},
{"date":"2024-02-01","series":"NASDAQ 100","value":19.7},
{"date":"2024-02-04","series":"NASDAQ 100","value":20.0},
{"date":"2024-02-08","series":"NASDAQ 100","value":21.4},
{"date":"2024-02-11","series":"NASDAQ 100","value":19.7},
{"date":"2024-02-15","series":"NASDAQ 100","value":20.6},
{"date":"2024-02-19","series":"NASDAQ 100","value":20.9},
{"date":"2024-02-23","series":"NASDAQ 100","value":21.7},
{"date":"2024-02-27","series":"NASDAQ 100","value":21.4},
{"date":"2024-03-02","series":"NASDAQ 100","value":23.2},
{"date":"2024-03-05","series":"NASDAQ 100","value":22.9},
{"date":"2024-03-08","series":"NASDAQ 100","value":22.0},
{"date":"2024-03-12","series":"NASDAQ 100","value":22.0},
{"date":"2024-03-16","series":"NASDAQ 100","value":21.1},
{"date":"2024-03-20","series":"NASDAQ 100","value":23.8},
{"date":"2024-03-23","series":"NASDAQ 100","value":23.8},
{"date":"2024-03-27","series":"NASDAQ 100","value":23.5},
{"date":"2024-03-31","series":"NASDAQ 100","value":23.8},
{"date":"2024-04-03","series":"NASDAQ 100","value":22.3},
{"date":"2024-04-07","series":"NASDAQ 100","value":22.9},
{"date":"2024-04-11","series":"NASDAQ 100","value":23.5},
{"date":"2024-04-13","series":"NASDAQ 100","value":20.3},
{"date":"2024-04-17","series":"NASDAQ 100","value":17.4},
{"date":"2024-04-20","series":"NASDAQ 100","value":16.2},
{"date":"2024-04-24","series":"NASDAQ 100","value":18.5},
{"date":"2024-04-27","series":"NASDAQ 100","value":20.3},
{"date":"2024-05-01","series":"NASDAQ 100","value":19.1},
{"date":"2024-05-04","series":"NASDAQ 100","value":21.4},
{"date":"2024-05-08","series":"NASDAQ 100","value":22.6},
{"date":"2024-05-12","series":"NASDAQ 100","value":23.2},
{"date":"2024-05-14","series":"NASDAQ 100","value":25.5},
{"date":"2024-05-20","series":"NASDAQ 100","value":26.4},
{"date":"2024-05-25","series":"NASDAQ 100","value":27.5},
{"date":"2024-05-27","series":"NASDAQ 100","value":27.8},
{"date":"2024-05-30","series":"NASDAQ 100","value":25.5},
{"date":"2024-06-03","series":"NASDAQ 100","value":27.2},
{"date":"2024-06-07","series":"NASDAQ 100","value":28.7},
{"date":"2024-06-11","series":"NASDAQ 100","value":30.1},
{"date":"2024-06-14","series":"NASDAQ 100","value":33.0},
{"date":"2024-06-18","series":"NASDAQ 100","value":34.8},
{"date":"2024-06-22","series":"NASDAQ 100","value":33.6},
{"date":"2024-06-26","series":"NASDAQ 100","value":33.0},
{"date":"2024-06-30","series":"NASDAQ 100","value":34.8},
{"date":"2024-07-04","series":"NASDAQ 100","value":37.6},
{"date":"2024-07-08","series":"NASDAQ 100","value":38.8},
{"date":"2024-07-10","series":"NASDAQ 100","value":40.0},
{"date":"2024-07-13","series":"NASDAQ 100","value":37.6},
{"date":"2024-07-15","series":"NASDAQ 100","value":37.1},
{"date":"2024-07-18","series":"NASDAQ 100","value":33.6},
{"date":"2024-07-21","series":"NASDAQ 100","value":33.0},
{"date":"2024-07-23","series":"NASDAQ 100","value":32.4},
{"date":"2024-07-26","series":"NASDAQ 100","value":28.4},
{"date":"2024-07-28","series":"NASDAQ 100","value":30.7},
{"date":"2024-07-31","series":"NASDAQ 100","value":27.2},
{"date":"2024-08-03","series":"NASDAQ 100","value":25.5},
{"date":"2024-08-05","series":"NASDAQ 100","value":21.4},
{"date":"2024-08-08","series":"NASDAQ 100","value":23.8},
{"date":"2024-08-12","series":"NASDAQ 100","value":26.1},
{"date":"2024-08-14","series":"NASDAQ 100","value":31.3},
{"date":"2024-08-18","series":"NASDAQ 100","value":33.6},
{"date":"2024-08-22","series":"NASDAQ 100","value":32.4},
{"date":"2024-08-26","series":"NASDAQ 100","value":33.0},
{"date":"2024-08-29","series":"NASDAQ 100","value":31.8},
{"date":"2024-09-01","series":"NASDAQ 100","value":30.7},
{"date":"2024-09-04","series":"NASDAQ 100","value":27.8},
{"date":"2024-09-06","series":"NASDAQ 100","value":24.9},
{"date":"2024-09-08","series":"NASDAQ 100","value":26.1},
{"date":"2024-09-10","series":"NASDAQ 100","value":29.5},
{"date":"2024-09-13","series":"NASDAQ 100","value":31.8},
{"date":"2024-09-17","series":"NASDAQ 100","value":31.6},
{"date":"2024-09-19","series":"NASDAQ 100","value":34.2},
{"date":"2024-09-23","series":"NASDAQ 100","value":35.3},
{"date":"2024-09-27","series":"NASDAQ 100","value":35.3},
{"date":"2024-10-01","series":"NASDAQ 100","value":34.8},
{"date":"2024-10-05","series":"NASDAQ 100","value":35.6},
{"date":"2024-10-09","series":"NASDAQ 100","value":36.5},
{"date":"2024-10-13","series":"NASDAQ 100","value":38.2},
{"date":"2024-10-17","series":"NASDAQ 100","value":37.6},
{"date":"2024-10-21","series":"NASDAQ 100","value":38.2},
{"date":"2024-10-24","series":"NASDAQ 100","value":37.6},
{"date":"2024-10-28","series":"NASDAQ 100","value":38.8},
{"date":"2024-11-01","series":"NASDAQ 100","value":38.5},
{"date":"2024-11-04","series":"NASDAQ 100","value":39.1},
{"date":"2024-11-06","series":"NASDAQ 100","value":42.9},
{"date":"2024-11-10","series":"NASDAQ 100","value":42.9},
{"date":"2024-11-13","series":"NASDAQ 100","value":41.4},
{"date":"2024-11-15","series":"NASDAQ 100","value":38.2},
{"date":"2024-11-19","series":"NASDAQ 100","value":40.8},
{"date":"2024-11-24","series":"NASDAQ 100","value":40.6},
{"date":"2024-11-28","series":"NASDAQ 100","value":42.3},
{"date":"2024-11-30","series":"NASDAQ 100","value":43.4},
{"date":"2024-12-04","series":"NASDAQ 100","value":46.3},
{"date":"2024-12-08","series":"NASDAQ 100","value":44.9},
{"date":"2024-12-10","series":"NASDAQ 100","value":46.9},
{"date":"2024-12-13","series":"NASDAQ 100","value":45.2},
{"date":"2024-12-17","series":"NASDAQ 100","value":48.9},
{"date":"2024-12-19","series":"NASDAQ 100","value":43.4},
{"date":"2024-12-22","series":"NASDAQ 100","value":46.3},
{"date":"2024-12-26","series":"NASDAQ 100","value":45.2},
{"date":"2024-12-30","series":"NASDAQ 100","value":43.4},
{"date":"2025-01-01","series":"NASDAQ 100","value":42.0},
{"date":"2025-01-05","series":"NASDAQ 100","value":44.6},
{"date":"2025-01-09","series":"NASDAQ 100","value":42.9},
{"date":"2025-01-13","series":"NASDAQ 100","value":41.7},
{"date":"2025-01-16","series":"NASDAQ 100","value":44.0},
{"date":"2025-01-18","series":"NASDAQ 100","value":45.2},
{"date":"2025-01-22","series":"NASDAQ 100","value":47.5},
{"date":"2025-01-26","series":"NASDAQ 100","value":45.8},
{"date":"2025-01-29","series":"NASDAQ 100","value":44.0},
{"date":"2025-01-31","series":"NASDAQ 100","value":45.2},
{"date":"2025-02-04","series":"NASDAQ 100","value":46.3},
{"date":"2025-02-08","series":"NASDAQ 100","value":45.2},
{"date":"2025-02-12","series":"NASDAQ 100","value":47.5},
{"date":"2025-02-14","series":"NASDAQ 100","value":47.2},
{"date":"2025-02-17","series":"NASDAQ 100","value":49.8},
{"date":"2025-02-20","series":"NASDAQ 100","value":46.9},
{"date":"2025-02-23","series":"NASDAQ 100","value":44.0},
{"date":"2025-02-26","series":"NASDAQ 100","value":42.3},
{"date":"2025-02-28","series":"NASDAQ 100","value":41.1},
{"date":"2025-03-04","series":"NASDAQ 100","value":39.1},
{"date":"2025-03-07","series":"NASDAQ 100","value":36.5},
{"date":"2025-03-10","series":"NASDAQ 100","value":33.6},
{"date":"2025-03-12","series":"NASDAQ 100","value":30.1},
{"date":"2025-03-15","series":"NASDAQ 100","value":33.3},
{"date":"2025-03-18","series":"NASDAQ 100","value":31.9},
{"date":"2025-03-20","series":"NASDAQ 100","value":33.6},
{"date":"2025-03-23","series":"NASDAQ 100","value":35.9},
{"date":"2025-03-25","series":"NASDAQ 100","value":31.9},
{"date":"2025-03-28","series":"NASDAQ 100","value":31.3},
{"date":"2025-03-30","series":"NASDAQ 100","value":32.4},
{"date":"2025-04-02","series":"NASDAQ 100","value":29.0},
{"date":"2025-04-04","series":"NASDAQ 100","value":20.9},
{"date":"2025-04-06","series":"NASDAQ 100","value":17.4},
{"date":"2025-04-08","series":"NASDAQ 100","value":16.2},
{"date":"2025-04-10","series":"NASDAQ 100","value":27.2},
{"date":"2025-04-12","series":"NASDAQ 100","value":26.6},
{"date":"2025-04-15","series":"NASDAQ 100","value":25.8},
{"date":"2025-04-17","series":"NASDAQ 100","value":24.3},
{"date":"2025-04-21","series":"NASDAQ 100","value":20.9},
{"date":"2025-04-24","series":"NASDAQ 100","value":30.7},
{"date":"2025-04-28","series":"NASDAQ 100","value":34.2},
{"date":"2025-05-02","series":"NASDAQ 100","value":35.3},
{"date":"2025-05-05","series":"NASDAQ 100","value":36.5},
{"date":"2025-05-09","series":"NASDAQ 100","value":40.0},
{"date":"2025-05-12","series":"NASDAQ 100","value":43.4},
{"date":"2025-05-16","series":"NASDAQ 100","value":44.6},
{"date":"2025-05-20","series":"NASDAQ 100","value":43.4},
{"date":"2025-05-24","series":"NASDAQ 100","value":44.6},
{"date":"2025-05-28","series":"NASDAQ 100","value":44.3},
{"date":"2025-06-02","series":"NASDAQ 100","value":45.8},
{"date":"2025-06-04","series":"NASDAQ 100","value":46.3},
{"date":"2025-06-08","series":"NASDAQ 100","value":47.8},
{"date":"2025-06-12","series":"NASDAQ 100","value":46.6},
{"date":"2025-06-16","series":"NASDAQ 100","value":47.2},
{"date":"2025-06-21","series":"NASDAQ 100","value":46.9},
{"date":"2025-06-24","series":"NASDAQ 100","value":50.4},
{"date":"2025-06-26","series":"NASDAQ 100","value":52.7},
{"date":"2025-06-30","series":"NASDAQ 100","value":54.4},
{"date":"2025-07-04","series":"NASDAQ 100","value":53.9},
{"date":"2025-07-08","series":"NASDAQ 100","value":55.1},
{"date":"2025-07-12","series":"NASDAQ 100","value":54.4},
{"date":"2025-07-16","series":"NASDAQ 100","value":56.2},
{"date":"2025-07-20","series":"NASDAQ 100","value":56.5},
{"date":"2025-07-24","series":"NASDAQ 100","value":57.6},
{"date":"2025-07-27","series":"NASDAQ 100","value":57.3},
{"date":"2025-08-01","series":"NASDAQ 100","value":55.1},
{"date":"2025-08-03","series":"NASDAQ 100","value":56.8},
{"date":"2025-08-05","series":"NASDAQ 100","value":58.5},
{"date":"2025-08-08","series":"NASDAQ 100","value":59.6},
{"date":"2025-08-11","series":"NASDAQ 100","value":60.0},
{"date":"2025-08-15","series":"NASDAQ 100","value":58.5},
{"date":"2025-08-18","series":"NASDAQ 100","value":57.9},
{"date":"2025-08-21","series":"NASDAQ 100","value":56.8},
{"date":"2025-08-24","series":"NASDAQ 100","value":59.1},
{"date":"2025-08-28","series":"NASDAQ 100","value":59.1},
{"date":"2025-08-31","series":"NASDAQ 100","value":57.9},
{"date":"2025-09-03","series":"NASDAQ 100","value":60.2},
{"date":"2025-09-07","series":"NASDAQ 100","value":61.1},
{"date":"2025-09-11","series":"NASDAQ 100","value":62.5},
{"date":"2025-09-15","series":"NASDAQ 100","value":64.0},
{"date":"2025-09-17","series":"NASDAQ 100","value":66.0},
{"date":"2025-09-21","series":"NASDAQ 100","value":67.2},
{"date":"2025-09-25","series":"NASDAQ 100","value":66.3},
{"date":"2025-09-29","series":"NASDAQ 100","value":67.2},
{"date":"2025-10-02","series":"NASDAQ 100","value":68.0},
{"date":"2025-10-05","series":"NASDAQ 100","value":68.9},
{"date":"2025-10-08","series":"NASDAQ 100","value":70.0},
{"date":"2025-10-09","series":"NASDAQ 100","value":64.6},
{"date":"2025-10-12","series":"NASDAQ 100","value":67.6},
{"date":"2025-10-16","series":"NASDAQ 100","value":67.2},
{"date":"2025-10-20","series":"NASDAQ 100","value":68.6},
{"date":"2025-10-24","series":"NASDAQ 100","value":70.0},
{"date":"2025-10-26","series":"NASDAQ 100","value":74.1},
{"date":"2025-10-29","series":"NASDAQ 100","value":76.7},
{"date":"2025-10-31","series":"NASDAQ 100","value":74.7},
{"date":"2025-11-03","series":"NASDAQ 100","value":73.5},
{"date":"2025-11-05","series":"NASDAQ 100","value":71.2},
{"date":"2025-11-08","series":"NASDAQ 100","value":72.4},
{"date":"2025-11-11","series":"NASDAQ 100","value":70.0},
{"date":"2025-11-13","series":"NASDAQ 100","value":68.9},
{"date":"2025-11-16","series":"NASDAQ 100","value":67.7},
{"date":"2025-11-18","series":"NASDAQ 100","value":65.4},
{"date":"2025-11-20","series":"NASDAQ 100","value":62.8},
{"date":"2025-11-22","series":"NASDAQ 100","value":66.6},
{"date":"2025-11-24","series":"NASDAQ 100","value":67.2},
{"date":"2025-11-26","series":"NASDAQ 100","value":70.1},
{"date":"2025-11-29","series":"NASDAQ 100","value":72.4},
{"date":"2025-12-01","series":"NASDAQ 100","value":73.0},
{"date":"2025-12-04","series":"NASDAQ 100","value":72.1},
{"date":"2025-12-07","series":"NASDAQ 100","value":73.6},
{"date":"2025-12-09","series":"NASDAQ 100","value":74.4},
{"date":"2025-12-12","series":"NASDAQ 100","value":71.8},
{"date":"2025-12-14","series":"NASDAQ 100","value":70.7},
{"date":"2025-12-17","series":"NASDAQ 100","value":67.8},
{"date":"2025-12-20","series":"NASDAQ 100","value":72.1},
{"date":"2025-12-23","series":"NASDAQ 100","value":73.8},
{"date":"2025-12-27","series":"NASDAQ 100","value":73.0},
{"date":"2025-12-31","series":"NASDAQ 100","value":70.9},
{"date":"2026-01-04","series":"NASDAQ 100","value":72.4},
{"date":"2026-01-08","series":"NASDAQ 100","value":74.1},
{"date":"2026-01-12","series":"NASDAQ 100","value":73.6},
{"date":"2026-01-16","series":"NASDAQ 100","value":72.1},
{"date":"2026-01-20","series":"NASDAQ 100","value":69.8},
{"date":"2026-01-22","series":"NASDAQ 100","value":73.0},
{"date":"2026-01-26","series":"NASDAQ 100","value":75.9},
{"date":"2026-01-29","series":"NASDAQ 100","value":76.1},
{"date":"2026-01-31","series":"NASDAQ 100","value":73.6},
{"date":"2026-02-03","series":"NASDAQ 100","value":71.5},
{"date":"2026-02-05","series":"NASDAQ 100","value":66.9},
{"date":"2026-02-07","series":"NASDAQ 100","value":70.1},
{"date":"2026-02-11","series":"NASDAQ 100","value":70.1},
{"date":"2026-02-15","series":"NASDAQ 100","value":68.3},
{"date":"2026-02-18","series":"NASDAQ 100","value":67.8},
{"date":"2026-02-22","series":"NASDAQ 100","value":70.7},
{"date":"2026-02-25","series":"NASDAQ 100","value":68.9},
{"date":"2026-02-27","series":"NASDAQ 100","value":68.3},
{"date":"2026-03-02","series":"NASDAQ 100","value":69.5},
{"date":"2026-03-05","series":"NASDAQ 100","value":67.5},
{"date":"2026-03-09","series":"NASDAQ 100","value":68.3},
{"date":"2026-03-11","series":"NASDAQ 100","value":66.6},
{"date":"2026-03-14","series":"NASDAQ 100","value":65.4},
{"date":"2026-03-16","series":"NASDAQ 100","value":64.8},
{"date":"2026-03-19","series":"NASDAQ 100","value":63.1},
{"date":"2026-03-22","series":"NASDAQ 100","value":62.5},
{"date":"2026-03-24","series":"NASDAQ 100","value":62.0},
{"date":"2026-03-27","series":"NASDAQ 100","value":57.9},
{"date":"2026-03-29","series":"NASDAQ 100","value":55.6},
{"date":"2026-03-31","series":"NASDAQ 100","value":60.2},
{"date":"2026-04-02","series":"NASDAQ 100","value":62.5},
{"date":"2026-04-05","series":"NASDAQ 100","value":63.1},
{"date":"2026-04-07","series":"NASDAQ 100","value":67.7},
{"date":"2026-04-10","series":"NASDAQ 100","value":70.0},
{"date":"2026-04-13","series":"NASDAQ 100","value":73.5},
{"date":"2026-04-15","series":"NASDAQ 100","value":77.6},
{"date":"2026-04-18","series":"NASDAQ 100","value":80.5},
{"date":"2026-04-20","series":"NASDAQ 100","value":82.8},
{"date":"2026-04-23","series":"NASDAQ 100","value":84.2},
{"date":"2026-04-26","series":"NASDAQ 100","value":85.1},
{"date":"2026-04-28","series":"NASDAQ 100","value":86.3},
{"date":"2026-05-01","series":"NASDAQ 100","value":86.8},
{"date":"2026-05-03","series":"NASDAQ 100","value":88.6},
{"date":"2026-05-05","series":"NASDAQ 100","value":93.2},
{"date":"2026-05-07","series":"NASDAQ 100","value":97.8},
{"date":"2026-05-10","series":"NASDAQ 100","value":98.4},
{"date":"2026-05-12","series":"NASDAQ 100","value":99.0},
{"date":"2026-05-15","series":"NASDAQ 100","value":98.1},
{"date":"2026-05-18","series":"NASDAQ 100","value":96.1},
{"date":"2026-05-20","series":"NASDAQ 100","value":99.0},
{"date":"2026-05-23","series":"NASDAQ 100","value":100.5},
{"date":"2026-05-25","series":"NASDAQ 100","value":102.5},
{"date":"2026-05-28","series":"NASDAQ 100","value":104.8},
{"date":"2026-05-31","series":"NASDAQ 100","value":106.5},
{"date":"2026-06-02","series":"NASDAQ 100","value":107.7},
{"date":"2026-06-03","series":"NASDAQ 100","value":102.5},
{"date":"2026-06-05","series":"NASDAQ 100","value":97.8},
{"date":"2026-06-06","series":"NASDAQ 100","value":96.7},
{"date":"2026-06-09","series":"NASDAQ 100","value":99.0},
{"date":"2026-06-10","series":"NASDAQ 100","value":93.2},
{"date":"2026-06-11","series":"NASDAQ 100","value":97.8}
]},
"mark": {"type": "line", "strokeWidth": 3.4, "clip": true},
"encoding": {
  "x": {"field": "date", "type": "temporal",
    "scale": {"domain": [{"year": 2023, "month": 4, "date": 17, "hours": 12}, {"year": 2026, "month": 8, "date": 4, "hours": 12}], "nice": false},
    "axis": {"title": "期間", "format": "%Y-%m", "labelPadding": 12, "titlePadding": 13,
      "values": [{"year": 2023, "month": 5, "date": 1}, {"year": 2023, "month": 9, "date": 1}, {"year": 2024, "month": 1, "date": 1}, {"year": 2024, "month": 5, "date": 1}, {"year": 2024, "month": 9, "date": 1}, {"year": 2025, "month": 1, "date": 1}, {"year": 2025, "month": 5, "date": 1}, {"year": 2025, "month": 9, "date": 1}, {"year": 2026, "month": 1, "date": 1}, {"year": 2026, "month": 5, "date": 1}]}},
  "y": {"field": "value", "type": "quantitative",
    "scale": {"domain": [-20.05, 113.4], "nice": false, "zero": false},
    "axis": {"title": "株価変動率 [%]", "values": [-20, 0, 20, 40, 60, 80, 100], "labelPadding": 11, "titlePadding": 10}},
  "color": {"field": "series", "type": "nominal",
    "scale": {"domain": ["NSC", "S&P 500", "NASDAQ 100"], "range": ["#0000ff", "#ffa500", "#ff0000"]},
    "legend": {"title": null, "orient": "none", "legendX": 14, "legendY": 15}},
  "strokeDash": {"field": "series", "type": "nominal",
    "scale": {"domain": ["NSC", "S&P 500", "NASDAQ 100"], "range": [[1, 0], [16, 6.5], [26, 6.5, 5, 6.5]]},
    "legend": {"title": null, "orient": "none", "legendX": 14, "legendY": 15}}
}
}
